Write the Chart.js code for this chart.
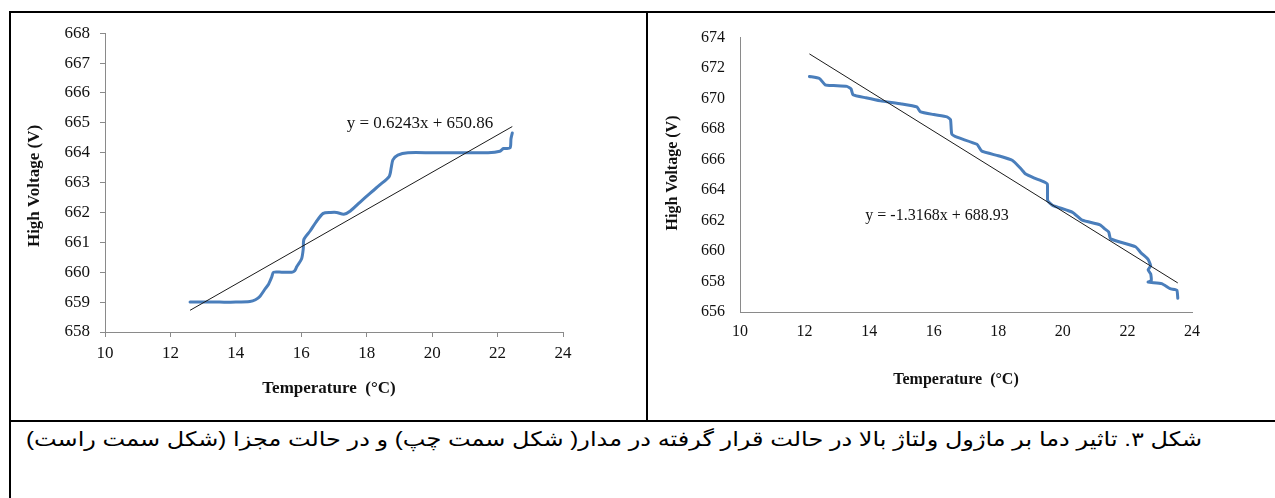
<!DOCTYPE html>
<html lang="fa">
<head>
<meta charset="utf-8">
<title>High voltage module vs temperature</title>
<script src="https://cdn.jsdelivr.net/npm/chart.js@4.4.1/dist/chart.umd.min.js"></script>
<style>
  html, body { margin: 0; padding: 0; background: #fff; }
  body { width: 1275px; height: 498px; position: relative; overflow: hidden; }
  .rule { position: absolute; background: #000; }
  canvas { position: absolute; }
  #caption {
    position: absolute; right: 73px; top: 427px;
    direction: rtl; white-space: nowrap;
    font-family: 'Liberation Sans', Arial, 'DejaVu Sans', sans-serif;
    font-size: 20px; line-height: 24px; color: #000;
    transform: scaleX(1.2); transform-origin: right center;
  }
</style>
</head>
<body>
<canvas id="leftChart" width="635" height="407" style="left:11px;top:13px;width:635px;height:407px"></canvas>
<canvas id="rightChart" width="627" height="407" style="left:648px;top:13px;width:627px;height:407px"></canvas>

<div class="rule" style="left:9px;top:11px;width:1266px;height:2px"></div>
<div class="rule" style="left:9px;top:11px;width:2px;height:487px"></div>
<div class="rule" style="left:646px;top:11px;width:2px;height:411px"></div>
<div class="rule" style="left:9px;top:420px;width:1266px;height:2px"></div>

<div id="caption">شکل ۳. تاثیر دما بر ماژول ولتاژ بالا در حالت قرار گرفته در مدار( شکل سمت چپ) و در حالت مجزا (شکل سمت راست)</div>

<script>
// Module connected in the circuit
const leftTemp = [12.60, 13.00, 13.50, 14.00, 14.43, 14.60, 14.74, 14.90, 15.00, 15.10, 15.15, 15.40, 15.71, 15.80, 15.86, 16.01, 16.06, 16.08, 16.27, 16.45, 16.67, 16.90, 17.08, 17.30, 17.50, 17.80, 18.10, 18.40, 18.69, 18.75, 18.80, 18.95, 19.26, 20.00, 21.00, 21.71, 22.07, 22.18, 22.38, 22.41, 22.45];
const leftVolt = [659.00, 659.00, 659.00, 659.00, 659.02, 659.08, 659.20, 659.45, 659.60, 659.85, 660.00, 660.00, 660.00, 660.05, 660.18, 660.45, 660.78, 661.10, 661.38, 661.68, 661.97, 662.00, 662.00, 661.94, 662.05, 662.35, 662.64, 662.92, 663.21, 663.50, 663.76, 663.92, 664.00, 664.00, 664.00, 664.00, 664.05, 664.14, 664.16, 664.47, 664.66];
const leftSlope = 0.6243;
const leftIntercept = 650.86;
const leftEquation = 'y = 0.6243x + 650.86';

// Module on its own
const rightTemp = [12.15, 12.46, 12.64, 12.90, 13.31, 13.44, 13.50, 13.90, 14.35, 15.00, 15.48, 15.58, 16.00, 16.41, 16.52, 16.56, 16.74, 17.34, 17.49, 18.00, 18.43, 18.70, 18.85, 19.10, 19.40, 19.52, 19.53, 19.68, 20.30, 20.60, 21.15, 21.30, 21.42, 21.48, 22.25, 22.42, 22.64, 22.72, 22.64, 22.72, 22.74, 22.64, 23.06, 23.32, 23.53, 23.56];
const rightVolt = [671.45, 671.32, 670.90, 670.85, 670.80, 670.64, 670.25, 670.05, 669.85, 669.65, 669.45, 669.15, 668.95, 668.80, 668.62, 667.68, 667.45, 667.00, 666.55, 666.25, 665.95, 665.40, 665.05, 664.80, 664.55, 664.38, 663.30, 663.00, 662.54, 662.02, 661.72, 661.45, 661.25, 660.80, 660.28, 659.88, 659.45, 659.03, 658.77, 658.50, 658.07, 657.96, 657.86, 657.53, 657.43, 656.90];
const rightSlope = -1.3168;
const rightIntercept = 688.93;
const rightEquation = 'y = -1.3168x + 688.93';

const tempTicks = [10, 12, 14, 16, 18, 20, 22, 24];
const leftVoltTicks = [658, 659, 660, 661, 662, 663, 664, 665, 666, 667, 668];
const rightVoltTicks = [656, 658, 660, 662, 664, 666, 668, 670, 672, 674];

const xTitle = 'Temperature  (°C)';
const yTitle = 'High Voltage (V)';

const SERIF = "'Liberation Serif', 'Times New Roman', serif";
Chart.defaults.font.family = SERIF;
Chart.defaults.color = '#111';

function toPoints(xs, ys) { return xs.map((x, i) => ({ x: x, y: ys[i] })); }

// Linear trend line across the measured temperature range
function trendPoints(xs, slope, intercept) {
  const lo = Math.min(...xs), hi = Math.max(...xs);
  return [{ x: lo, y: slope * lo + intercept }, { x: hi, y: slope * hi + intercept }];
}

// Free text (axis titles, trend equation) drawn on the chart canvas
const freeText = {
  id: 'freeText',
  afterDraw(chart, args, opts) {
    const ctx = chart.ctx;
    (opts.items || []).forEach(it => {
      ctx.save();
      ctx.translate(it.x, it.y);
      if (it.rotate) ctx.rotate(it.rotate);
      ctx.font = it.font;
      ctx.fillStyle = it.color || '#111';
      ctx.textAlign = 'center';
      ctx.textBaseline = it.baseline || 'middle';
      ctx.fillText(it.text, 0, 0);
      ctx.restore();
    });
  }
};

function makeChart(id, cfg) {
  const tickList = cfg.yTicks;
  return new Chart(document.getElementById(id), {
    type: 'scatter',
    data: {
      datasets: [
        {
          data: trendPoints(cfg.temp, cfg.slope, cfg.intercept),
          showLine: true, borderColor: '#1a1a1a', borderWidth: 1,
          pointRadius: 0, tension: 0
        },
        {
          data: toPoints(cfg.temp, cfg.volt),
          showLine: true, borderColor: '#4A7EBB', borderWidth: 3,
          pointRadius: 0, tension: cfg.tension,
          borderCapStyle: 'round', borderJoinStyle: 'round'
        }
      ]
    },
    options: {
      responsive: false,
      animation: false,
      devicePixelRatio: 1,
      layout: { padding: { top: cfg.padTop, right: cfg.padRight, left: 0, bottom: 0 } },
      plugins: {
        legend: { display: false },
        tooltip: { enabled: false },
        freeText: { items: cfg.texts }
      },
      scales: {
        x: {
          type: 'linear', min: tempTicks[0], max: tempTicks[tempTicks.length - 1],
          afterBuildTicks: s => { s.ticks = tempTicks.map(v => ({ value: v })); },
          afterFit: s => { s.height = cfg.xHeight; },
          ticks: { font: { size: cfg.fontSize }, padding: cfg.xPad, maxRotation: 0, color: '#111' },
          grid: { drawOnChartArea: false, drawTicks: cfg.drawTicks, tickLength: 5, color: '#8a8a8a' },
          border: { color: '#8a8a8a', width: 1 }
        },
        y: {
          type: 'linear', min: tickList[0], max: tickList[tickList.length - 1],
          afterBuildTicks: s => { s.ticks = tickList.map(v => ({ value: v })); },
          afterFit: s => { s.width = cfg.yWidth; },
          ticks: { font: { size: cfg.fontSize }, padding: cfg.yPad, color: '#111' },
          grid: { drawOnChartArea: false, drawTicks: cfg.drawTicks, tickLength: 5, color: '#8a8a8a' },
          border: { color: '#8a8a8a', width: 1 }
        }
      }
    },
    plugins: [freeText]
  });
}

makeChart('leftChart', {
  temp: leftTemp, volt: leftVolt, slope: leftSlope, intercept: leftIntercept,
  yTicks: leftVoltTicks, tension: 0.25,
  padTop: 12, padRight: 83, yWidth: 94, xHeight: 88,
  fontSize: 17, xPad: 6, yPad: 10, drawTicks: true,
  texts: [
    { text: yTitle, x: 24, y: 173, rotate: -Math.PI / 2, font: 'bold 17px ' + SERIF },
    { text: xTitle, x: 318, y: 376, font: 'bold 17px ' + SERIF },
    { text: leftEquation, x: 409, y: 115, baseline: 'alphabetic', font: '17px ' + SERIF }
  ]
});

makeChart('rightChart', {
  temp: rightTemp, volt: rightVolt, slope: rightSlope, intercept: rightIntercept,
  yTicks: rightVoltTicks, tension: 0.15,
  padTop: 16, padRight: 83, yWidth: 92, xHeight: 108,
  fontSize: 16, xPad: 10, yPad: 15, drawTicks: false,
  texts: [
    { text: yTitle, x: 25, y: 160, rotate: -Math.PI / 2, font: 'bold 16px ' + SERIF },
    { text: xTitle, x: 308, y: 367, font: 'bold 16px ' + SERIF },
    { text: rightEquation, x: 289, y: 207, baseline: 'alphabetic', font: '16px ' + SERIF }
  ]
});
</script>
</body>
</html>
